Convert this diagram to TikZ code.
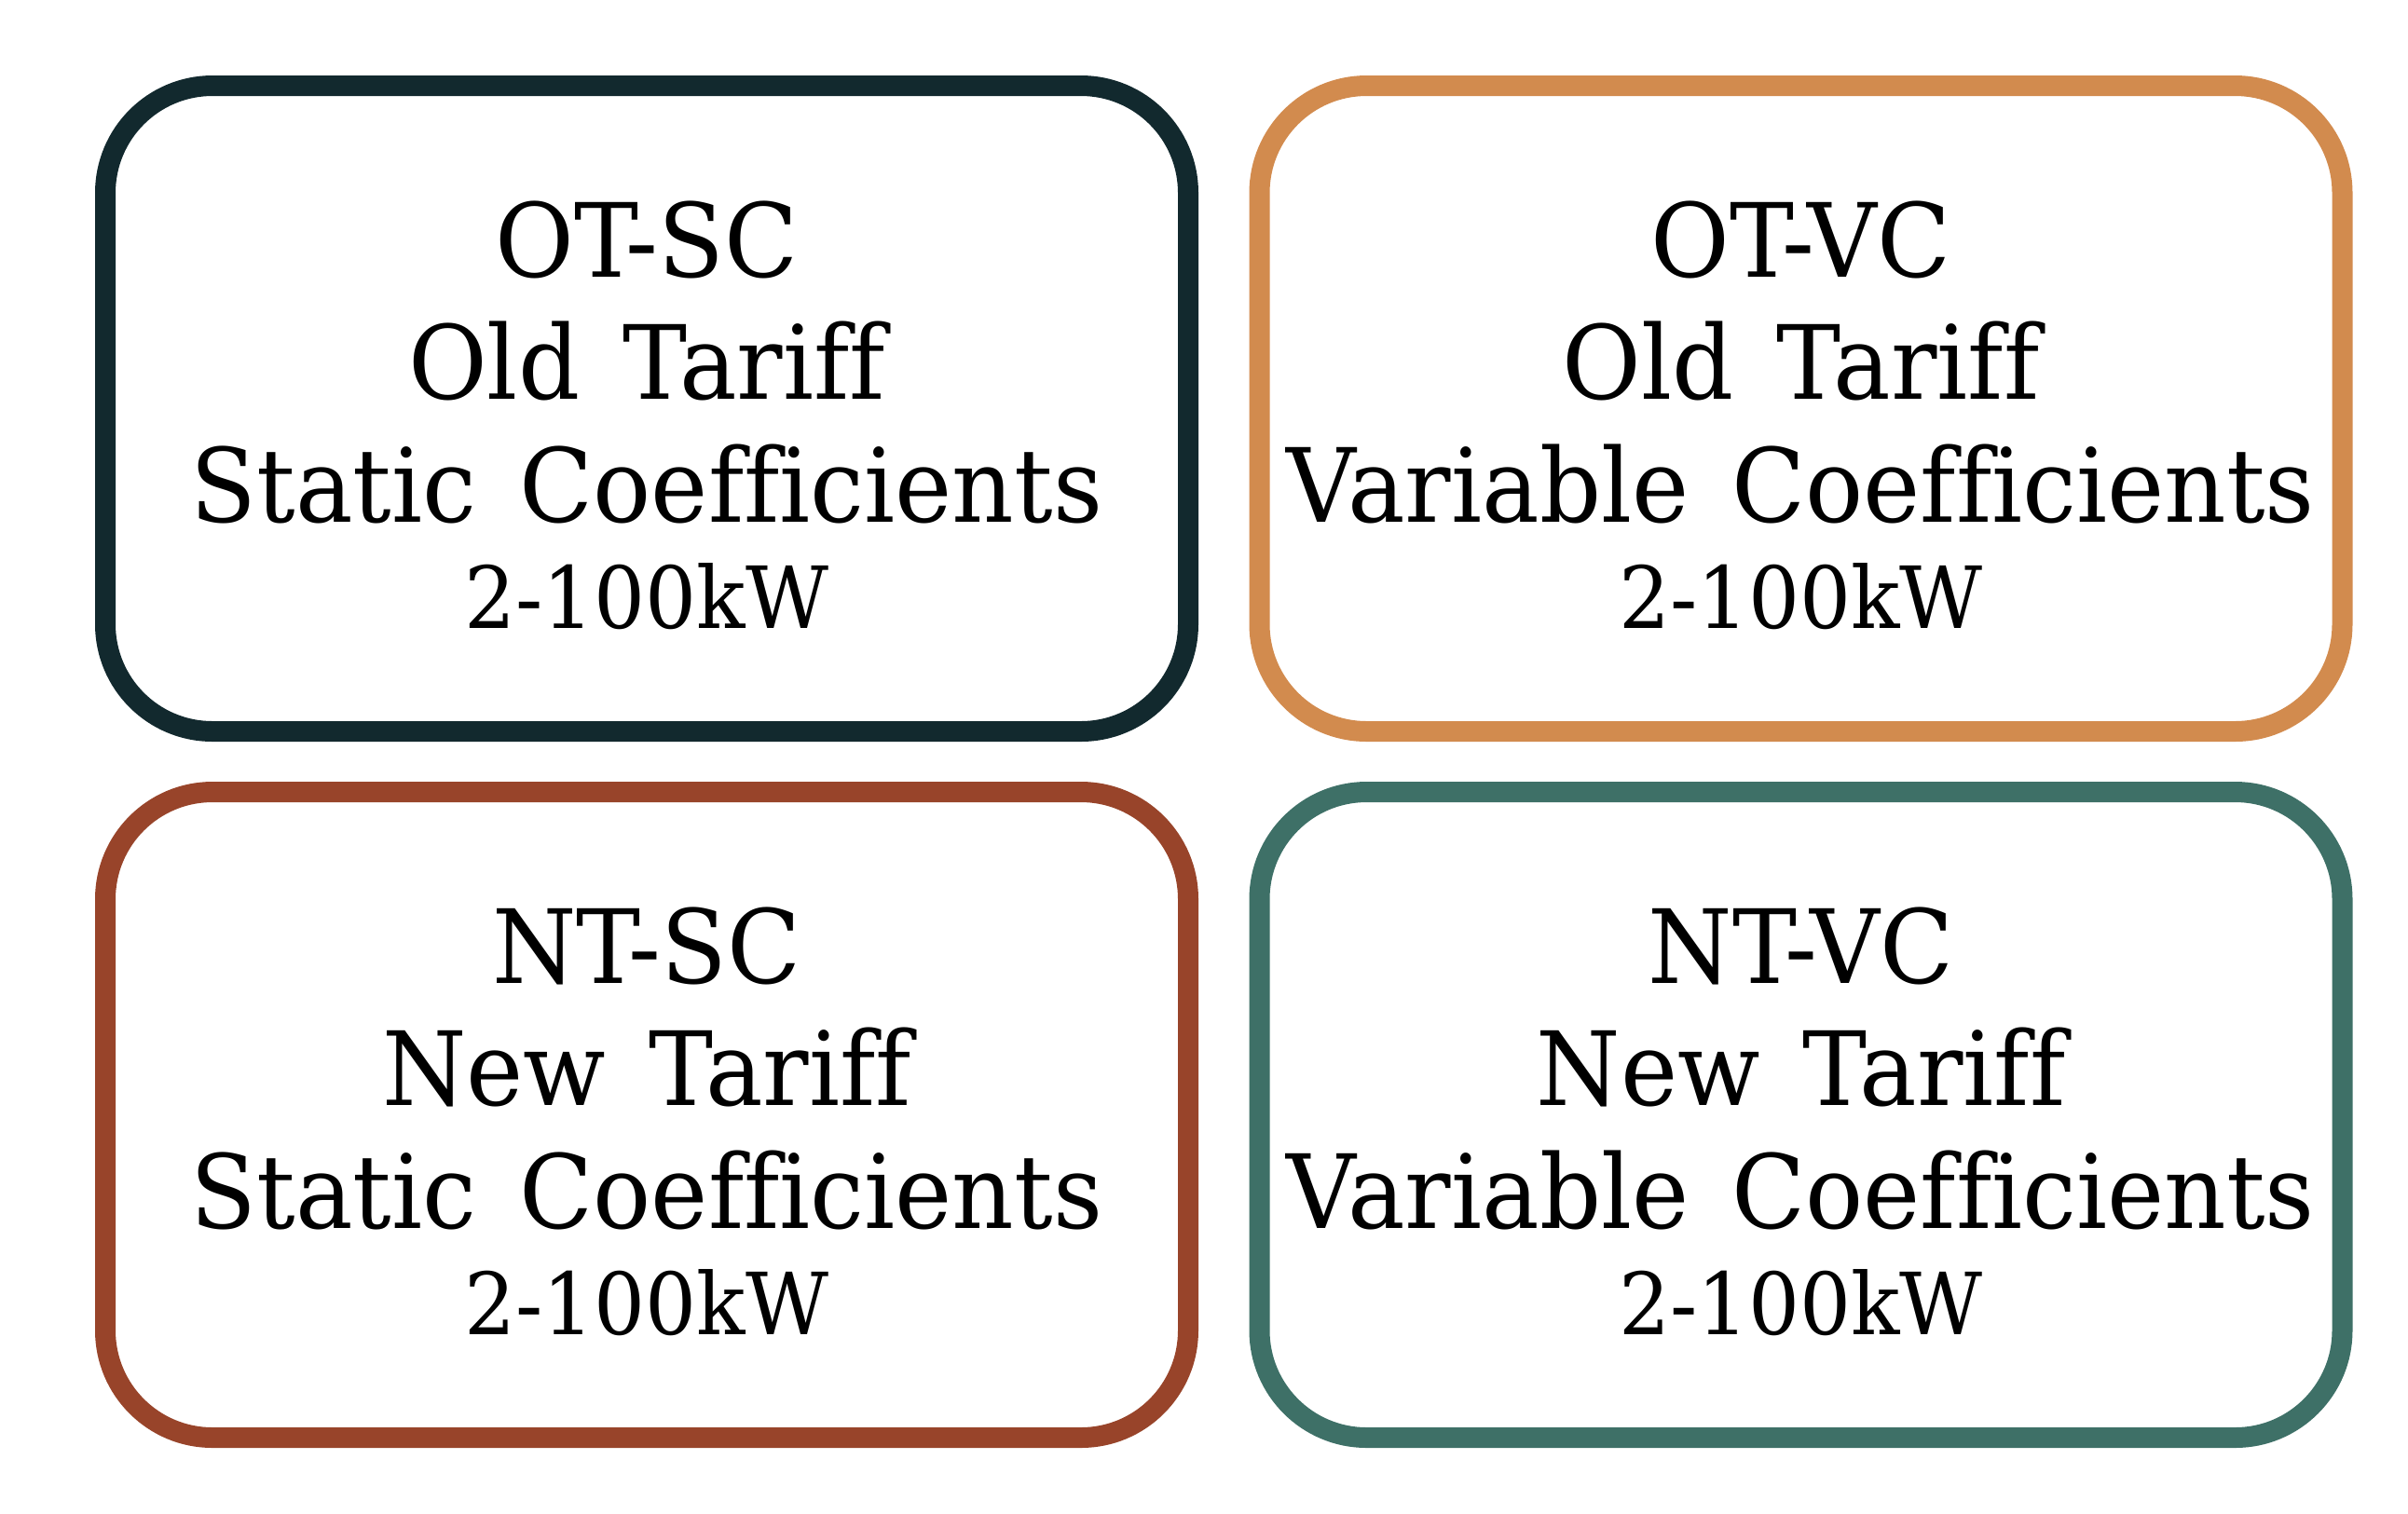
\documentclass[tikz,border=0pt]{standalone}
\usepackage{fontspec}
\setmainfont[FakeStretch=0.94,Ligatures=NoCommon,WordSpace=1.4]{DejaVu Serif}
\definecolor{cDark}{HTML}{12292E}
\definecolor{cOrange}{HTML}{D28B4E}
\definecolor{cRust}{HTML}{98442A}
\definecolor{cGreen}{HTML}{3E7067}
\tikzset{
  qbox/.style={draw, line width=0.22cm, rounded corners=1.15cm, minimum width=11.62cm, minimum height=6.93cm, inner sep=0pt},
  bigline/.style={anchor=base, inner sep=0pt, font=\fontsize{31.3}{37}\selectfont},
  smallline/.style={anchor=base, inner sep=0pt, font=\fontsize{26.2}{31}\selectfont}
}
\newcommand{\quadbox}[7]{%
  \node[qbox, draw=#2] (#1) at (#3) {};
  \node[bigline] (#1-a) at ([yshift=1.41cm]#1.center) {#4};
  \node[bigline] (#1-b) at ([yshift=0.10cm]#1.center) {#5};
  \node[bigline] (#1-c) at ([yshift=-1.22cm]#1.center) {#6};
  \node[smallline] (#1-d) at ([yshift=-2.36cm]#1.center) {#7};
}
\begin{document}
\begin{tikzpicture}
\useasboundingbox (0,0) rectangle (25.84,-16.24);
\quadbox{otsc}{cDark}{6.94,-4.385}{OT-SC}{Old Tariff}{Static Coefficients}{2-100kW}
\quadbox{otvc}{cOrange}{19.325,-4.385}{OT-VC}{Old Tariff}{Variable Coefficients}{2-100kW}
\quadbox{ntsc}{cRust}{6.94,-11.965}{NT-SC}{New Tariff}{Static Coefficients}{2-100kW}
\quadbox{ntvc}{cGreen}{19.325,-11.965}{NT-VC}{New Tariff}{Variable Coefficients}{2-100kW}
\end{tikzpicture}
\end{document}
